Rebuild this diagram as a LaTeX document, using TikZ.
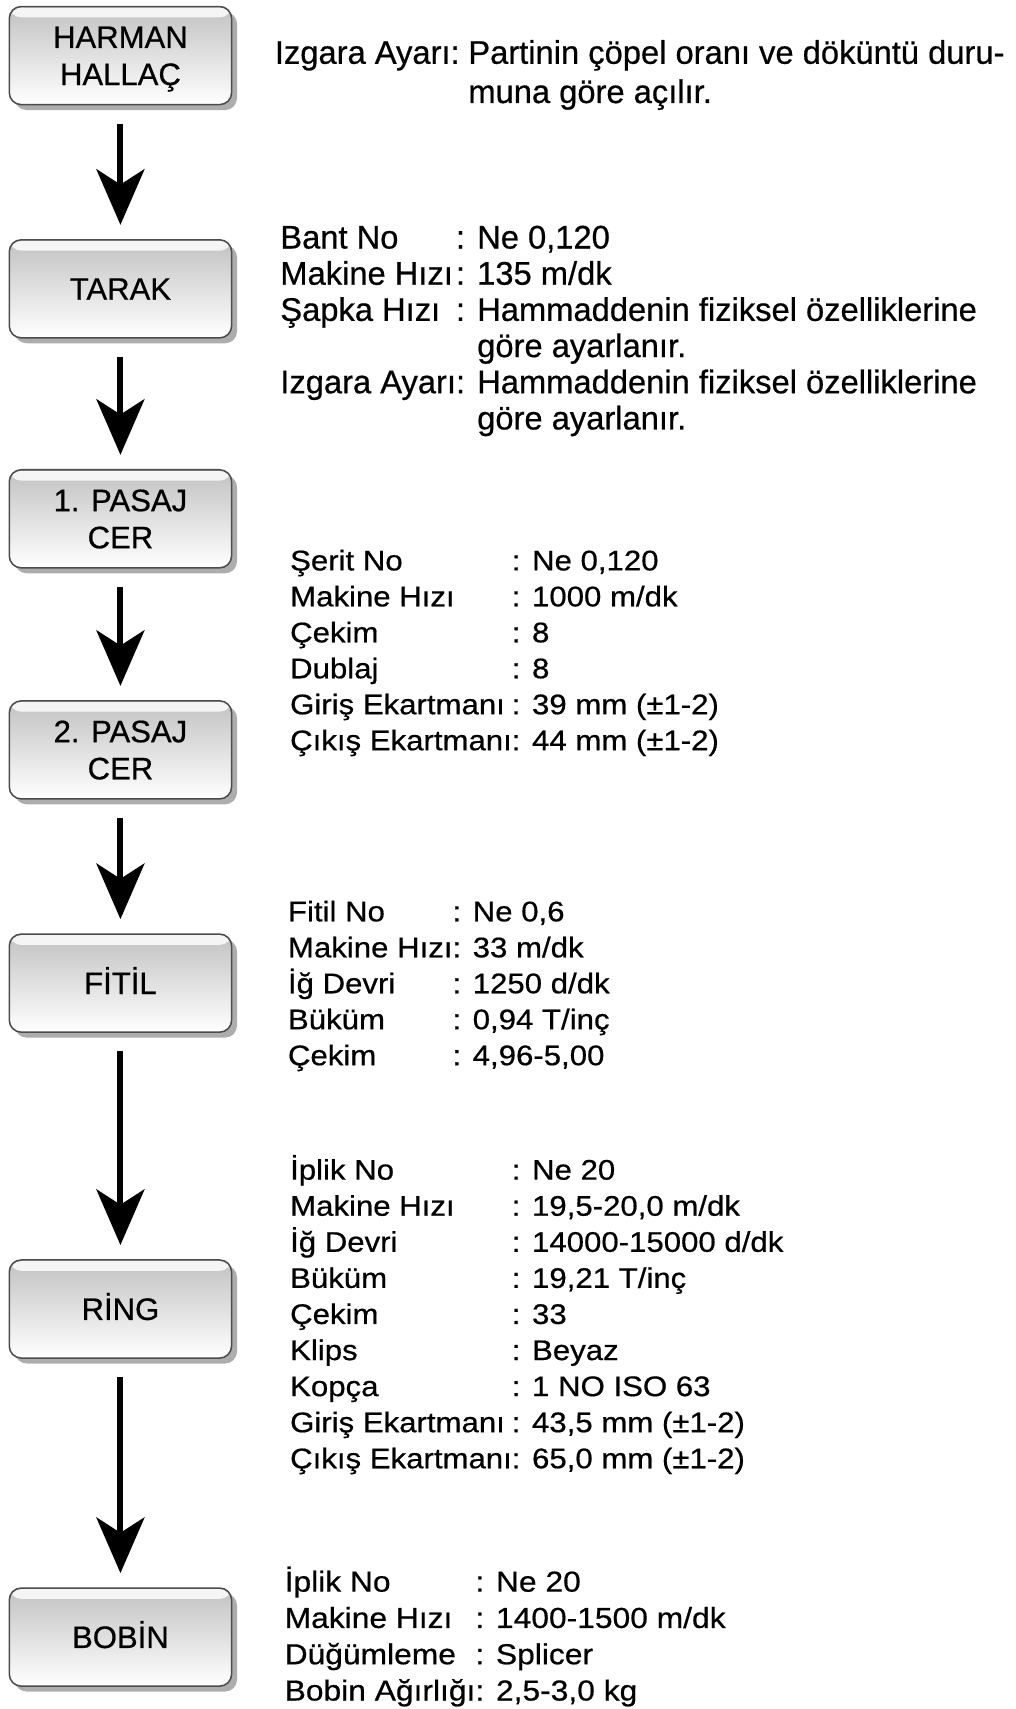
\documentclass[tikz,border=0pt]{standalone}
\usepackage{fontspec}
\setmainfont{Liberation Sans}[RawFeature={embolden=0.6}]
\newfontfamily\genisfont[FakeStretch=1.1,RawFeature={embolden=0.6}]{Liberation Sans}
\usepackage{tikz}
\usetikzlibrary{arrows.meta,shadows}

\tikzset{
  makine/.style={draw=black!70, line width=1.4pt, rounded corners=11pt,
    minimum width=204pt, minimum height=90pt, align=center,
    top color=black!24, bottom color=white,
    font=\fontsize{28.5}{34}\selectfont, text height=20pt, text depth=-8pt,
    drop shadow={shadow xshift=5pt, shadow yshift=-5pt, fill=black!40, opacity=0.8},
    path picture={\fill[black!4] ([yshift=-1pt]path picture bounding box.north west)
      rectangle ([yshift=-10pt]path picture bounding box.north east);}},
  makine2/.style={makine, text height=54pt, text depth=-14pt},
  akis/.style={line width=5.5pt, -{Stealth[length=51pt,width=44pt,inset=14pt]},
    shorten <=17pt, shorten >=13pt},
  bilgi/.style={anchor=base west, inner sep=0pt},
}

\begin{document}
\begin{tikzpicture}[x=1pt,y=-1pt]

\useasboundingbox (0,0) rectangle (932,1568);

% makineler
\node[makine2] (harman) at (110.5,51) {HARMAN\\HALLAÇ};
\node[makine] (tarak) at (110.5,265) {TARAK};
\node[makine2] (cer1) at (110.5,476) {1. PASAJ\\CER};
\node[makine2] (cer2) at (110.5,688) {2. PASAJ\\CER};
\node[makine] (fitil) at (110.5,902) {FİTİL};
\node[makine] (ring) at (110.5,1201) {RİNG};
\node[makine] (bobin) at (110.5,1502) {BOBİN};

% oklar
\draw[akis] (harman) -- (tarak);
\draw[akis] (tarak) -- (cer1);
\draw[akis] (cer1) -- (cer2);
\draw[akis] (cer2) -- (fitil);
\draw[akis] (fitil) -- (ring);
\draw[akis] (ring) -- (bobin);

% ayarlar
\node[bilgi, font=\fontsize{30}{36}\selectfont] (harmanbilgi) at (252,58.5) {%
\begin{tabular}[t]{@{}l@{\hskip 8pt}l@{}}
Izgara Ayarı: & Partinin çöpel oranı ve döküntü duru-\\
 & muna göre açılır.
\end{tabular}};

\node[bilgi, font=\fontsize{30}{33.2}\selectfont] (tarakbilgi) at (257,228) {%
\begin{tabular}[t]{@{}l@{}l@{}}
Bant No & : Ne 0,120\\
Makine Hızı & : 135 m/dk\\
Şapka Hızı & : Hammaddenin fiziksel özelliklerine\\
 & \phantom{: }göre ayarlanır.\\
Izgara Ayarı & : Hammaddenin fiziksel özelliklerine\\
 & \phantom{: }göre ayarlanır.
\end{tabular}};

\node[bilgi, font=\genisfont\fontsize{26}{33}\selectfont] (cerbilgi) at (266,523.3) {%
\begin{tabular}[t]{@{}l@{}l@{}}
Şerit No & : Ne 0,120\\
Makine Hızı & : 1000 m/dk\\
Çekim & : 8\\
Dublaj & : 8\\
Giriş Ekartmanı & : 39 mm (±1-2)\\
Çıkış Ekartmanı & : 44 mm (±1-2)
\end{tabular}};

\node[bilgi, font=\genisfont\fontsize{26}{33}\selectfont] (fitilbilgi) at (264,845.3) {%
\begin{tabular}[t]{@{}l@{}l@{}}
Fitil No & : Ne 0,6\\
Makine Hızı & : 33 m/dk\\
İğ Devri & : 1250 d/dk\\
Büküm & : 0,94 T/inç\\
Çekim & : 4,96-5,00
\end{tabular}};

\node[bilgi, font=\genisfont\fontsize{26}{33.1}\selectfont] (ringbilgi) at (266,1082.3) {%
\begin{tabular}[t]{@{}l@{}l@{}}
İplik No & : Ne 20\\
Makine Hızı & : 19,5-20,0 m/dk\\
İğ Devri & : 14000-15000 d/dk\\
Büküm & : 19,21 T/inç\\
Çekim & : 33\\
Klips & : Beyaz\\
Kopça & : 1 NO ISO 63\\
Giriş Ekartmanı & : 43,5 mm (±1-2)\\
Çıkış Ekartmanı & : 65,0 mm (±1-2)
\end{tabular}};

\node[bilgi, font=\genisfont\fontsize{26.5}{33.3}\selectfont] (bobinbilgi) at (261,1460.3) {%
\begin{tabular}[t]{@{}l@{}l@{}}
İplik No & : Ne 20\\
Makine Hızı & : 1400-1500 m/dk\\
Düğümleme & : Splicer\\
Bobin Ağırlığı & : 2,5-3,0 kg
\end{tabular}};

\end{tikzpicture}
\end{document}
